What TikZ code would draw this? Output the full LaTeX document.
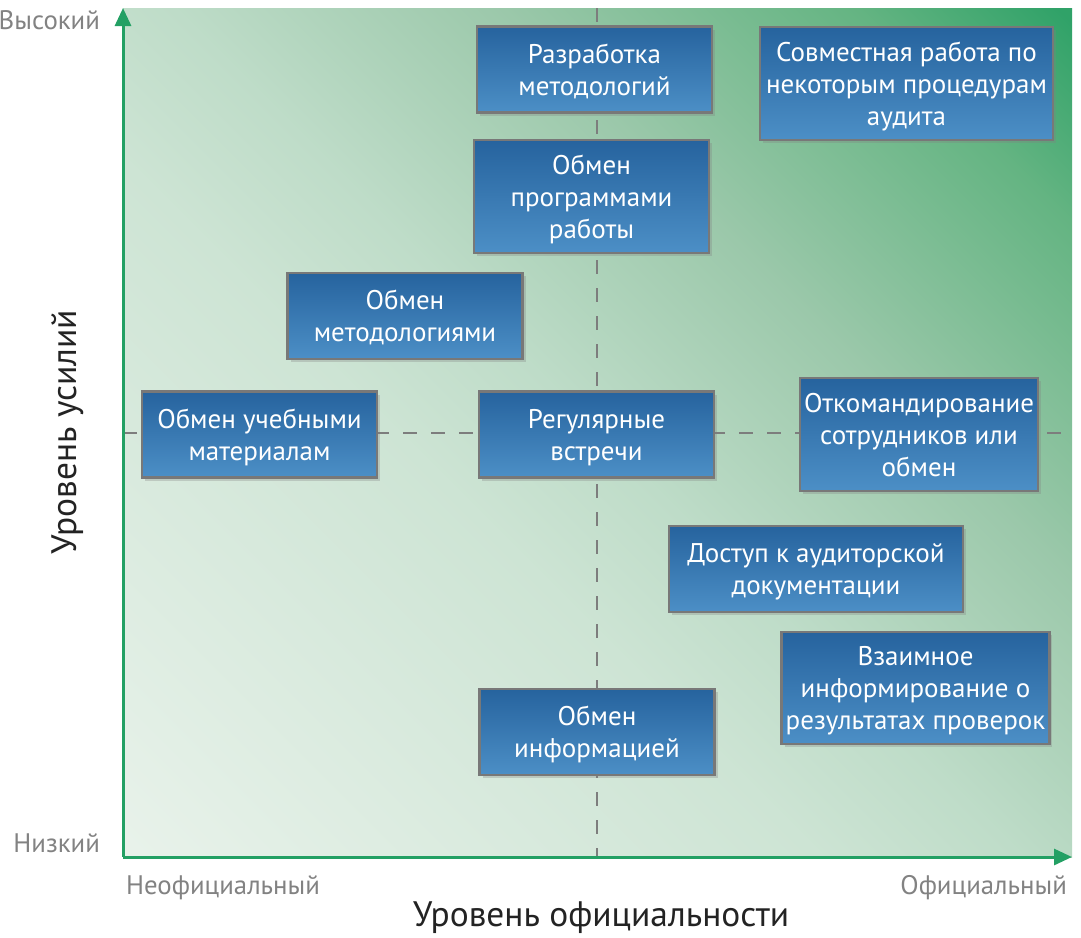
\documentclass[tikz,border=0pt]{standalone}
\usepackage{fontspec}
\setmainfont{PT Sans}
\usetikzlibrary{arrows.meta,shadows}
\definecolor{qGreen}{RGB}{35,160,100}
\definecolor{qDash}{RGB}{125,125,125}
\definecolor{qFrame}{RGB}{120,120,120}
\definecolor{qBlueTop}{RGB}{38,99,158}
\definecolor{qBlueBot}{RGB}{76,143,198}
\definecolor{qTick}{RGB}{130,130,130}
\definecolor{qTitle}{RGB}{35,35,35}
\pgfdeclareverticalshading{fieldshade}{100bp}{
  rgb(0bp)=(0.91,0.949,0.918); rgb(15bp)=(0.91,0.949,0.918);
  rgb(42bp)=(0.804,0.894,0.831); rgb(50bp)=(0.745,0.863,0.784);
  rgb(63bp)=(0.608,0.784,0.667); rgb(77bp)=(0.392,0.706,0.51);
  rgb(85bp)=(0.188,0.635,0.408); rgb(100bp)=(0.188,0.635,0.408)}
\tikzset{
    base/.style={font=\fontsize{13.5}{16}\selectfont, align=center},
    activity/.style={base, rectangle, draw=qFrame, line width=1.2pt,
                     top color=qBlueTop, bottom color=qBlueBot, text=white,
                     inner sep=2pt, text depth=0pt,
                     minimum width=117.5pt, minimum height=43pt,
                     drop shadow={opacity=0.3, shadow xshift=1.5pt, shadow yshift=-1.5pt}},
    axis/.style={-{Triangle[length=9pt,width=8pt]}, line width=1.5pt, draw=qGreen},
    guide/.style={dash pattern=on 7pt off 7pt, line width=1pt, draw=qDash},
    scalelabel/.style={font=\fontsize{13.4}{16}\selectfont, text=qTick},
    axistitle/.style={font=\fontsize{17.7}{20}\selectfont, text=qTitle}
}
\begin{document}
\begin{tikzpicture}[x=0.5pt, y=-0.5pt]
  \useasboundingbox (0,0) rectangle (1081,937);
  % Field
  \shade[shading=fieldshade, shading angle=-45] (123,8) rectangle (1072,857);
  \coordinate (o) at (123,857);
  \coordinate (ytop) at (123,8);
  \coordinate (xend) at (1072,857);
  \coordinate (vtop) at (597,8);
  \coordinate (vbot) at (597,857);
  \coordinate (hleft) at (123,433);
  \coordinate (hright) at (1072,433);

  % Quadrant guides
  \draw[guide] (vtop) -- (vbot);
  \draw[guide] (hleft) -- (hright);

  % Axes
  \draw[axis] (o) -- (ytop);
  \draw[axis] (o) -- (xend);

  % Activities
  \node[activity] (dev) at (594.5,69.5) {Разработка\\методологий};
  \node[activity, minimum width=146.5pt, minimum height=56.5pt] (joint) at (906.5,83.5)
    {Совместная работа по\\некоторым процедурам\\аудита};
  \node[activity, minimum height=56.5pt] (prog) at (591.5,196.5) {Обмен\\программами\\работы};
  \node[activity] (meth) at (405,316) {Обмен\\методологиями};
  \node[activity] (train) at (259.5,434.5) {Обмен учебными\\материалам};
  \node[activity] (meet) at (596.5,434.5) {Регулярные\\встречи};
  \node[activity, minimum height=56.5pt] (staff) at (919,434.5)
    {Откомандирование\\сотрудников или\\обмен};
  \node[activity, minimum width=147pt] (docs) at (816,569) {Доступ к аудиторской\\документации};
  \node[activity, minimum width=133.5pt, minimum height=56pt] (results) at (915.5,688)
    {Взаимное\\информирование о\\результатах проверок};
  \node[activity] (info) at (597,732) {Обмен\\информацией};

  % Scale labels
  \node[scalelabel, anchor=east] (high) at (107,20) {Высокий};
  \node[scalelabel, anchor=east] (low) at (107,843) {Низкий};
  \node[scalelabel, anchor=west] (informal) at (119,888) {Неофициальный};
  \node[scalelabel, anchor=east] (formal) at (1074,888) {Официальный};

  % Axis titles
  \node[axistitle] (xtitle) at (601,918) {Уровень официальности};
  \node[axistitle, rotate=90] (ytitle) at (68,432) {Уровень усилий};
\end{tikzpicture}
\end{document}
